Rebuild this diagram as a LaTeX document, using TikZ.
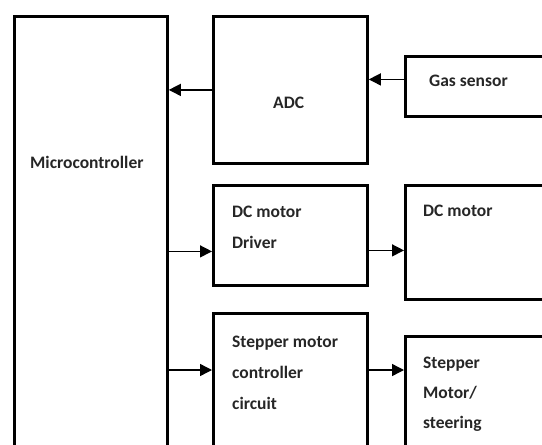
\documentclass[tikz,border=0pt]{standalone}
\usepackage{fontspec}
\setmainfont{Carlito}
\usetikzlibrary{arrows.meta}
\begin{document}
\begin{tikzpicture}[x=1pt,y=-1pt,
  blk/.style={draw=black, line width=2.8pt, rectangle, inner sep=0pt, anchor=north west, fill=none},
  arr/.style={line width=1.4pt, -{Triangle[length=12pt,width=12pt]}},
  lbl/.style={font=\fontsize{17.5}{31}\selectfont\bfseries, align=left, inner sep=0pt, anchor=base west, text=black!85}]
\useasboundingbox (0,0) rectangle (542,445);
\clip (0,0) rectangle (542,445);
% blocks
\node[blk, minimum width=153pt, minimum height=460pt] (mc)  at (13,15) {};
\node[blk, minimum width=154pt, minimum height=147pt] (adc) at (212,15) {};
\node[blk, minimum width=160pt, minimum height=60pt]  (gas) at (404,55) {};
\node[blk, minimum width=154pt, minimum height=100pt] (drv) at (212,184) {};
\node[blk, minimum width=160pt, minimum height=114pt] (dcm) at (404,184) {};
\node[blk, minimum width=154pt, minimum height=160pt] (stc) at (212,312) {};
\node[blk, minimum width=160pt, minimum height=140pt] (stm) at (404,335) {};
% labels (base anchor = baseline of last line)
\node[lbl] (tmc)  at (30,168)  {Microcontroller};
\node[lbl] (tadc) at (273,108) {ADC};
\node[lbl] (tgas) at (429,86)  {Gas sensor};
\node[lbl] (tdrv) at (232,248) {DC motor\\Driver};
\node[lbl] (tdcm) at (423,216) {DC motor};
\node[lbl] (tstc) at (232,409) {Stepper motor\\controller\\circuit};
\node[lbl, font=\fontsize{17.5}{30}\selectfont\bfseries] (tstm) at (423,428) {Stepper\\Motor/\\steering};
% connectors
\coordinate (g1) at ([yshift=7pt]gas.west);
\draw[arr] (g1) -- (adc.east |- g1);
\draw[arr] (adc.west) -- (mc.east |- adc.west);
\coordinate (d1) at ([yshift=-16pt]drv.west);
\draw[arr] (mc.east |- d1) -- (d1);
\coordinate (d2) at ([yshift=-15pt]drv.east);
\draw[arr] (d2) -- (dcm.west |- d2);
\coordinate (s1) at (stc.west |- 0,370);
\draw[arr] (mc.east |- s1) -- (s1);
\coordinate (s2) at (stc.east |- 0,370);
\draw[arr] (s2) -- (stm.west |- s2);
\end{tikzpicture}
\end{document}
